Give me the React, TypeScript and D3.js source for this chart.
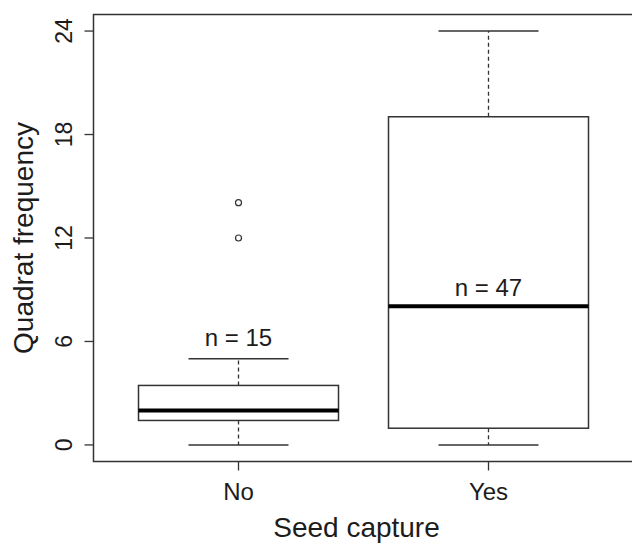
import * as d3 from 'd3';
import React, { useRef, useEffect } from 'react';

// --------------------------------------------------------
// data
// --------------------------------------------------------
const groups = ['No', 'Yes'];
const whiskerLow = [0, 0];
const lowerQuart = [1.42, 0.97];
const medians = [2, 8.04];
const upperQuart = [3.45, 19.03];
const whiskerHigh = [5, 24];
const outliers = [[12, 14.05], []];
const sampleSizes = [15, 47];
const yTicks = [0, 6, 12, 18, 24];

const WIDTH = 632;
const HEIGHT = 544;
const FONT = '"Liberation Sans", Arial, Helvetica, sans-serif';
const INK = '#1c1c1c';

function App() {
  const svgRef = useRef<SVGSVGElement>(null);

  useEffect(() => {
    const svg = d3.select(svgRef.current);
    svg.selectAll('*').remove();

    // R style axis extension: 4% past the data range
    const x = d3.scaleLinear().domain([0.42, 2.58]).range([93.5, 633.5]);
    const y = d3.scaleLinear().domain([-0.96, 24.96]).range([461.5, 14.5]);

    const boxHalf = 0.4;
    const capHalf = 0.2;

    // plot frame
    svg.append('rect')
      .attr('x', x(0.42)).attr('y', y(24.96))
      .attr('width', x(2.58) - x(0.42)).attr('height', y(-0.96) - y(24.96))
      .attr('fill', 'none').attr('stroke', '#333').attr('stroke-width', 1.5);

    // boxes
    groups.forEach((g, i) => {
      const c = i + 1;
      const grp = svg.append('g');

      // dashed whiskers
      grp.append('line')
        .attr('x1', x(c)).attr('x2', x(c))
        .attr('y1', y(upperQuart[i])).attr('y2', y(whiskerHigh[i]))
        .attr('stroke', '#333').attr('stroke-width', 1.3).attr('stroke-dasharray', '4,3');
      grp.append('line')
        .attr('x1', x(c)).attr('x2', x(c))
        .attr('y1', y(lowerQuart[i])).attr('y2', y(whiskerLow[i]))
        .attr('stroke', '#333').attr('stroke-width', 1.3).attr('stroke-dasharray', '4,3');

      // whisker caps
      [whiskerLow[i], whiskerHigh[i]].forEach(v => {
        grp.append('line')
          .attr('x1', x(c - capHalf)).attr('x2', x(c + capHalf))
          .attr('y1', y(v)).attr('y2', y(v))
          .attr('stroke', '#333').attr('stroke-width', 1.5);
      });

      // box
      grp.append('rect')
        .attr('x', x(c - boxHalf)).attr('y', y(upperQuart[i]))
        .attr('width', x(c + boxHalf) - x(c - boxHalf))
        .attr('height', y(lowerQuart[i]) - y(upperQuart[i]))
        .attr('fill', 'white').attr('stroke', '#333').attr('stroke-width', 1.5);

      // median
      grp.append('line')
        .attr('x1', x(c - boxHalf)).attr('x2', x(c + boxHalf))
        .attr('y1', y(medians[i])).attr('y2', y(medians[i]))
        .attr('stroke', '#000').attr('stroke-width', 4);

      // outliers
      grp.selectAll('circle').data(outliers[i]).enter().append('circle')
        .attr('cx', x(c)).attr('cy', d => y(d)).attr('r', 3)
        .attr('fill', 'none').attr('stroke', '#333').attr('stroke-width', 1.2);

      // sample size label, above the cap for No and above the median for Yes
      const labelY = i === 0 ? y(whiskerHigh[i]) - 13 : y(medians[i]) - 10;
      grp.append('text')
        .attr('x', x(c)).attr('y', labelY)
        .attr('text-anchor', 'middle')
        .attr('font-family', FONT).attr('font-size', 24).attr('fill', INK)
        .text(`n = ${sampleSizes[i]}`);
    });

    // y axis
    const yAxis = svg.append('g');
    yAxis.selectAll('line').data(yTicks).enter().append('line')
      .attr('x1', x(0.42)).attr('x2', x(0.42) - 9)
      .attr('y1', d => y(d)).attr('y2', d => y(d))
      .attr('stroke', '#333').attr('stroke-width', 1.3);
    yAxis.selectAll('text').data(yTicks).enter().append('text')
      .attr('transform', d => `translate(72,${y(d)}) rotate(-90)`)
      .attr('text-anchor', 'middle')
      .attr('font-family', FONT).attr('font-size', 23).attr('fill', INK)
      .text(d => d);

    // x axis
    const xAxis = svg.append('g');
    xAxis.selectAll('line').data(groups).enter().append('line')
      .attr('x1', (d, i) => x(i + 1)).attr('x2', (d, i) => x(i + 1))
      .attr('y1', y(-0.96)).attr('y2', y(-0.96) + 9)
      .attr('stroke', '#333').attr('stroke-width', 1.3);
    xAxis.selectAll('text').data(groups).enter().append('text')
      .attr('x', (d, i) => x(i + 1)).attr('y', 500)
      .attr('text-anchor', 'middle')
      .attr('font-family', FONT).attr('font-size', 24).attr('fill', INK)
      .text(d => d);

    // axis titles
    svg.append('text')
      .attr('x', (x(0.42) + x(2.58)) / 2 - 7).attr('y', 537)
      .attr('text-anchor', 'middle')
      .attr('font-family', FONT).attr('font-size', 28).attr('fill', INK)
      .text('Seed capture');
    svg.append('text')
      .attr('transform', `translate(33,${(y(-0.96) + y(24.96)) / 2}) rotate(-90)`)
      .attr('text-anchor', 'middle')
      .attr('font-family', FONT).attr('font-size', 28).attr('fill', INK)
      .text('Quadrat frequency');
  });

  return (
    <svg
      ref={svgRef}
      width={WIDTH}
      height={HEIGHT}
      style={{ position: 'absolute', left: 0, top: 0, background: 'white' }}
    />
  );
}

export default App;
